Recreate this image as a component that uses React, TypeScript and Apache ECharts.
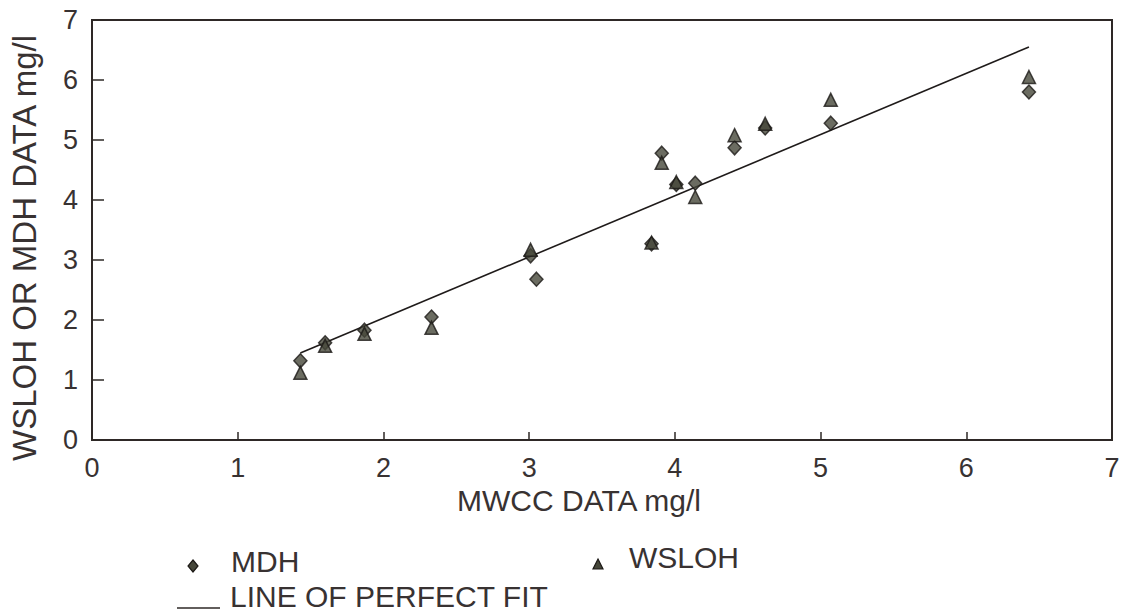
import React, { useEffect, useRef } from "react";
import * as echarts from "echarts";

// MWCC measurements (x) with the matching MDH and WSLOH results (y), mg/l
const mwcc = [1.43, 1.6, 1.87, 2.33, 3.01, 3.05, 3.84, 3.91, 4.01, 4.14, 4.41, 4.62, 5.07, 6.43];
const mdh = [1.32, 1.62, 1.83, 2.05, 3.07, 2.68, 3.27, 4.78, 4.26, 4.28, 4.87, 5.2, 5.28, 5.8];
const wsloh = [1.12, 1.57, 1.77, 1.87, 3.17, null, 3.29, 4.62, 4.3, 4.05, 5.08, 5.27, 5.67, 6.05];

// End points of the line of perfect fit
const fitX = [1.43, 6.43];
const fitY = [1.45, 6.55];

const axisTicks = [0, 1, 2, 3, 4, 5, 6, 7];

const FONT = "'Liberation Sans', Arial, Helvetica, sans-serif";
const INK = "#2e2826";
const TEXT = "#383232";
const MARK_FILL = "#46473a";
const MARK_EDGE = "#1c1916";

export default function App() {
  const ref = useRef<HTMLDivElement>(null);

  useEffect(() => {
    if (!ref.current) return;
    const chart = echarts.init(ref.current, undefined, { renderer: "svg" });

    const pairs = (ys: (number | null)[]) =>
      mwcc.map((x, i) => (ys[i] == null ? null : [x, ys[i]])).filter((p) => p !== null);

    const markStyle = { color: MARK_FILL, borderColor: MARK_EDGE, borderWidth: 1.5 };

    const axisCommon = {
      type: "value" as const,
      min: axisTicks[0],
      max: axisTicks[axisTicks.length - 1],
      interval: 1,
      axisLine: { show: true, onZero: false, lineStyle: { color: INK, width: 2 } },
      splitLine: { show: false },
    };

    const legendText = (text: string, x: number, y: number) => ({
      type: "text",
      x,
      y,
      style: {
        text,
        fill: TEXT,
        fontFamily: FONT,
        fontSize: 30,
        align: "left",
        verticalAlign: "middle",
      },
    });

    chart.setOption({
      animation: false,
      backgroundColor: "#ffffff",
      textStyle: { fontFamily: FONT },
      grid: {
        left: 92,
        right: 13,
        top: 20,
        bottom: 173,
        show: true,
        borderColor: INK,
        borderWidth: 2,
        backgroundColor: "transparent",
      },
      xAxis: {
        ...axisCommon,
        name: "MWCC DATA mg/l",
        nameLocation: "middle",
        nameGap: 43,
        nameTextStyle: { fontFamily: FONT, fontSize: 30, color: TEXT, padding: [0, 46, 0, 0] },
        axisTick: { show: true, inside: true, length: 8, lineStyle: { color: INK, width: 1.5 } },
        axisLabel: { fontFamily: FONT, fontSize: 27, color: TEXT, margin: 14 },
      },
      yAxis: {
        ...axisCommon,
        name: "WSLOH OR MDH DATA mg/l",
        nameLocation: "middle",
        nameRotate: 90,
        nameGap: 51,
        nameTextStyle: { fontFamily: FONT, fontSize: 33, color: TEXT, padding: [0, 36, 0, 0] },
        axisTick: { show: true, inside: true, length: 12, lineStyle: { color: INK, width: 1.5 } },
        axisLabel: { fontFamily: FONT, fontSize: 27, color: TEXT, margin: 14 },
      },
      graphic: [
        {
          type: "polygon",
          shape: { points: [[193, 560], [198, 566], [193, 572], [188, 566]] },
          style: { fill: MARK_FILL, stroke: MARK_EDGE, lineWidth: 1.2 },
        },
        legendText("MDH", 231, 561),
        {
          type: "polygon",
          shape: { points: [[598, 559], [603, 569], [593, 569]] },
          style: { fill: MARK_FILL, stroke: MARK_EDGE, lineWidth: 1.2 },
        },
        legendText("WSLOH", 629, 557),
        {
          type: "line",
          shape: { x1: 177, y1: 608, x2: 220, y2: 608 },
          style: { stroke: INK, lineWidth: 1.5 },
        },
        legendText("LINE OF PERFECT FIT", 230, 596),
      ],
      series: [
        {
          name: "LINE OF PERFECT FIT",
          type: "line",
          data: fitX.map((x, i) => [x, fitY[i]]),
          symbol: "none",
          lineStyle: { color: "#1f1b1a", width: 1.6 },
          itemStyle: { color: "#1f1b1a" },
          z: 2,
        },
        {
          name: "MDH",
          type: "scatter",
          data: pairs(mdh),
          symbol: "diamond",
          symbolSize: [13, 14],
          itemStyle: markStyle,
          z: 3,
        },
        {
          name: "WSLOH",
          type: "scatter",
          data: pairs(wsloh),
          symbol: "triangle",
          symbolSize: [13, 13],
          itemStyle: markStyle,
          z: 4,
        },
      ],
    });

    return () => chart.dispose();
  }, []);

  return (
    <div
      ref={ref}
      style={{ position: "fixed", left: 0, top: 0, width: 1125, height: 613, background: "#ffffff" }}
    />
  );
}
